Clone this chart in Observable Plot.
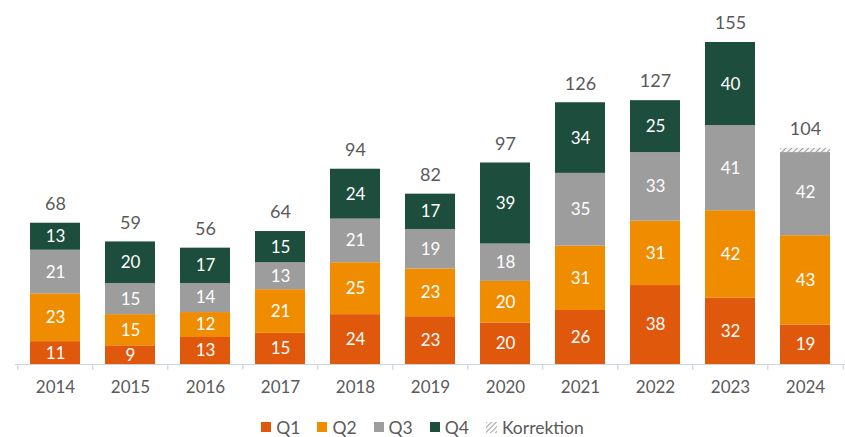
<!DOCTYPE html>
<html>
<head>
<meta charset="utf-8">
<script src="https://cdn.jsdelivr.net/npm/d3@7"></script>
<script src="https://cdn.jsdelivr.net/npm/@observablehq/plot@0.6"></script>
<style>
  html, body { margin: 0; padding: 0; background: #fff; }
  body { width: 845px; height: 437px; overflow: hidden; font-family: Lato, "Open Sans", sans-serif; }
  #legend { display: flex; justify-content: center; align-items: center; gap: 17px; font-size: 17.5px; color: #5a5a5a; height: 30px; margin-top: 7px; padding-left: 0px; }
  #legend .item { display: flex; align-items: center; gap: 5px; }
  #legend .sw { width: 10px; height: 10px; display: inline-block; }
</style>
</head>
<body>
<div id="chart"></div>
<div id="legend"></div>
<script>
const years = ["2014","2015","2016","2017","2018","2019","2020","2021","2022","2023","2024"];
const quarters = ["Q1","Q2","Q3","Q4"];
const q1 = [11, 9, 13, 15, 24, 23, 20, 26, 38, 32, 19];
const q2 = [23, 15, 12, 21, 25, 23, 20, 31, 31, 42, 43];
const q3 = [21, 15, 14, 13, 21, 19, 18, 35, 33, 41, 42];
const q4 = [13, 20, 17, 15, 24, 17, 39, 34, 25, 40, null];
const korrektion = [0, 0, 0, 0, 0, 0, 0, 0, 0, 0, 2];
const totals = [68, 59, 56, 64, 94, 82, 97, 126, 127, 155, 104];
const colors = ["#e0580c", "#ef8c00", "#9d9d9d", "#1d4d3c"];

const series = [q1, q2, q3, q4];
const long = [];
years.forEach((yr, i) => {
  quarters.forEach((q, j) => {
    const v = series[j][i];
    if (v != null) long.push({year: yr, quarter: q, value: v});
  });
});
const tot = years.map((yr, i) => ({year: yr, total: totals[i], korr: korrektion[i]}));
const korrData = tot.filter(d => d.korr > 0);

const xOpts = {domain: years, range: [15, 845], paddingInner: 0.33, paddingOuter: 0.165};
const xs = Plot.scale({x: {type: "band", ...xOpts}});
const step = xs.step;

const plot = Plot.plot({
  width: 845,
  height: 405,
  marginLeft: 15,
  marginRight: 0,
  marginTop: 0,
  marginBottom: 41,
  style: {fontFamily: "Lato, 'Open Sans', sans-serif", background: "#fff"},
  x: {...xOpts, type: "band", label: null},
  y: {domain: [0, 155], range: [364, 42], axis: null},
  color: {domain: quarters, range: colors},
  marks: [
    Plot.barY(long, {x: "year", y: "value", fill: "quarter", order: quarters}),
    Plot.barY(korrData, {x: "year", y1: d => d.total - d.korr, y2: "total", fill: "url(#hatch)"}),
    Plot.text(long, Plot.stackY({x: "year", y: "value", z: "quarter", order: quarters, text: d => String(d.value), fill: "white", fontSize: 17})),
    Plot.text(tot, {x: "year", y: "total", text: d => String(d.total), dy: -19, fill: "#5a5a5a", fontSize: 18}),
    Plot.ruleY([0], {stroke: "#ccd5de", strokeWidth: 1.2}),
    Plot.ruleX(years, {x: d => d, y1: 0, y2: -2.8, dx: -step / 2, stroke: "#ccd5de", strokeWidth: 1.2}),
    Plot.ruleX([years[years.length - 1]], {x: d => d, y1: 0, y2: -2.8, dx: step / 2, stroke: "#ccd5de", strokeWidth: 1.2}),
    Plot.axisX({tickSize: 0, tickPadding: 16, fontSize: 17, color: "#5a5a5a", label: null})
  ]
});

// hatch pattern definition
const ns = "http://www.w3.org/2000/svg";
const defs = document.createElementNS(ns, "defs");
defs.innerHTML = `<pattern id="hatch" patternUnits="userSpaceOnUse" width="4" height="4" patternTransform="rotate(45)">
  <rect width="4" height="4" fill="#f2f2f2"/>
  <line x1="0" y1="0" x2="0" y2="4" stroke="#9d9d9d" stroke-width="2"/>
</pattern>`;
plot.insertBefore(defs, plot.firstChild);
document.getElementById("chart").appendChild(plot);

// legend
const legend = document.getElementById("legend");
quarters.forEach((q, j) => {
  const it = document.createElement("span");
  it.className = "item";
  it.innerHTML = `<span class="sw" style="background:${colors[j]}"></span><span>${q}</span>`;
  legend.appendChild(it);
});
const k = document.createElement("span");
k.className = "item";
k.innerHTML = `<svg width="11" height="11"><defs><pattern id="hatch2" patternUnits="userSpaceOnUse" width="3.5" height="3.5" patternTransform="rotate(45)"><line x1="0" y1="0" x2="0" y2="3.5" stroke="#8a8a8a" stroke-width="1.6"/></pattern></defs><rect width="11" height="11" fill="url(#hatch2)"/></svg><span>Korrektion</span>`;
legend.appendChild(k);
</script>
</body>
</html>
